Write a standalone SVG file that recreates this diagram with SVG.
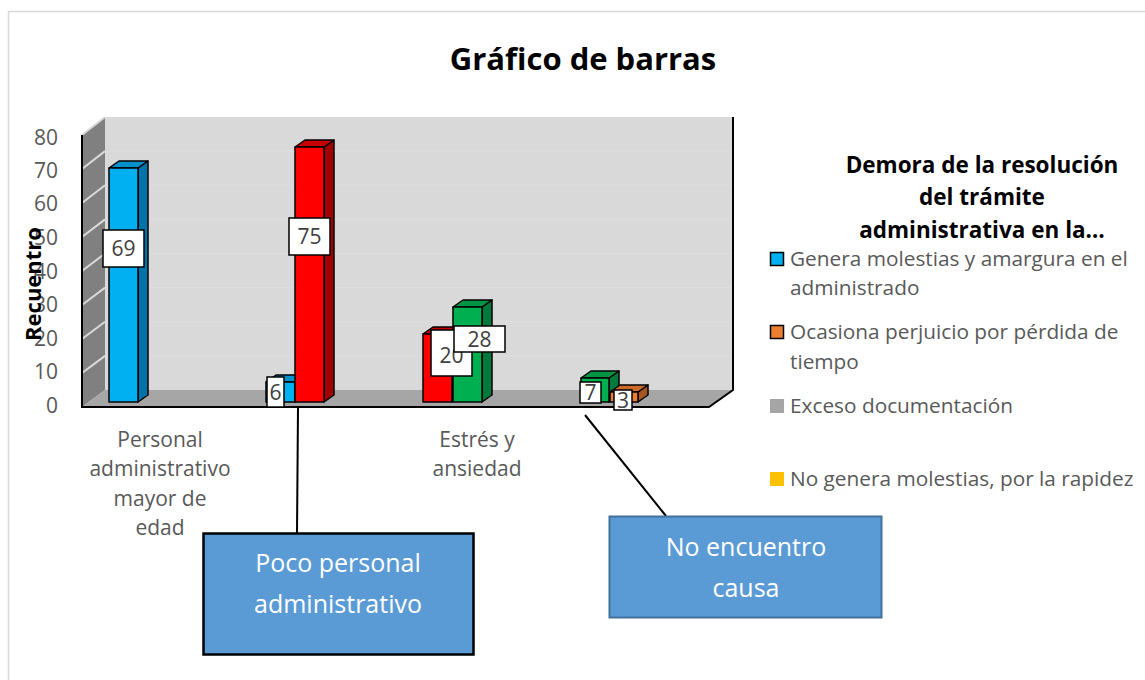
<svg xmlns="http://www.w3.org/2000/svg" width="1145" height="680" viewBox="0 0 1145 680">
<style>
.ax{font-family:"Open Sans","Liberation Sans",sans-serif;font-size:21px;fill:#595959}
.lg{font-family:"Open Sans","Liberation Sans",sans-serif;font-size:20.8px;fill:#595959}
.lt{font-family:"Open Sans","Liberation Sans",sans-serif;font-size:22.5px;font-weight:bold;fill:#000;text-anchor:middle}
.dl{font-family:"Open Sans","Liberation Sans",sans-serif;font-size:21px;fill:#404040;text-anchor:middle}
.lb{fill:#fff;stroke:#000;stroke-width:1.5}
.bx{font-family:"Open Sans","Liberation Sans",sans-serif;font-size:25px;fill:#fff;text-anchor:middle}
.bar{stroke:#000;stroke-width:1.5;stroke-linejoin:round}
.sg{stroke:#d9d9d9;stroke-width:2}
.bg{stroke:#dedede;stroke-width:1}
.conn{stroke:#000;stroke-width:2;fill:none}
</style>
<rect x="0" y="0" width="1145" height="680" fill="#fff"/>
<rect x="8.5" y="11.5" width="1150" height="700" fill="#fff" stroke="#d9d9d9" stroke-width="1.5"/>
<text x="583" y="70" font-family="Open Sans, Liberation Sans, sans-serif" font-size="31" font-weight="bold" text-anchor="middle" fill="#000">Gráfico de barras</text>

<g id="walls">
<polygon points="105,117 733,117 733,390 105,390" fill="#d9d9d9"/>
<g class="bg">
<line x1="105" y1="355.9" x2="733" y2="355.9"/>
<line x1="105" y1="321.8" x2="733" y2="321.8"/>
<line x1="105" y1="287.6" x2="733" y2="287.6"/>
<line x1="105" y1="253.5" x2="733" y2="253.5"/>
<line x1="105" y1="219.4" x2="733" y2="219.4"/>
<line x1="105" y1="185.3" x2="733" y2="185.3"/>
<line x1="105" y1="151.1" x2="733" y2="151.1"/>
</g>
<polygon points="82,135 105,117 105,390 82,407" fill="#808080"/>
<g class="sg">
<line x1="82" y1="373" x2="105" y2="355.9"/>
<line x1="82" y1="339" x2="105" y2="321.8"/>
<line x1="82" y1="305" x2="105" y2="287.6"/>
<line x1="82" y1="271" x2="105" y2="253.5"/>
<line x1="82" y1="237" x2="105" y2="219.4"/>
<line x1="82" y1="203" x2="105" y2="185.3"/>
<line x1="82" y1="169" x2="105" y2="151.1"/>
<line x1="82" y1="135" x2="105" y2="117"/>
</g>
<polygon points="82,407 709,407 733,390 105,390" fill="#a6a6a6"/>
<polyline points="733,117 733,390 709,407 82,407 82,135" fill="none" stroke="#000" stroke-width="2"/>
</g>

<g id="y-axis">
<text class="ax" x="58" y="145" text-anchor="end">80</text>
<text class="ax" x="58" y="178" text-anchor="end">70</text>
<text class="ax" x="58" y="211" text-anchor="end">60</text>
<text class="ax" x="58" y="245" text-anchor="end">50</text>
<text class="ax" x="58" y="279" text-anchor="end">40</text>
<text class="ax" x="58" y="312" text-anchor="end">30</text>
<text class="ax" x="58" y="346" text-anchor="end">20</text>
<text class="ax" x="58" y="379" text-anchor="end">10</text>
<text class="ax" x="58" y="413" text-anchor="end">0</text>
<text x="0" y="0" transform="translate(41,284) rotate(-90)" font-family="Open Sans, Liberation Sans, sans-serif" font-size="22" font-weight="bold" text-anchor="middle" fill="#000">Recuentro</text>
</g>

<g id="x-axis">
<text class="ax" text-anchor="middle"><tspan x="160" y="447">Personal</tspan><tspan x="160" y="476">administrativo</tspan><tspan x="160" y="506">mayor de</tspan><tspan x="160" y="535">edad</tspan></text>
<text class="ax" text-anchor="middle"><tspan x="477" y="447">Estrés y</tspan><tspan x="477" y="476">ansiedad</tspan></text>
</g>

<g id="bars">
<g id="bar-blue-69" class="bar">
<polygon points="138,168 148,161 148,395 138,402" fill="#0074a8"/>
<polygon points="109,168 119,161 148,161 138,168" fill="#0090cc"/>
<rect x="109" y="168" width="29" height="234" fill="#00b0f0"/>
</g>
<g id="bar-blue-6" class="bar">
<polygon points="295,382 305,375 305,395 295,402" fill="#0074a8"/>
<polygon points="266,382 276,375 305,375 295,382" fill="#0090cc"/>
<rect x="266" y="382" width="29" height="20" fill="#00b0f0"/>
</g>
<g id="bar-red-75" class="bar">
<polygon points="324,147 334,140 334,395 324,402" fill="#a00000"/>
<polygon points="295,147 305,140 334,140 324,147" fill="#c80000"/>
<rect x="295" y="147" width="29" height="255" fill="#ff0000"/>
</g>
<g id="bar-red-20" class="bar">
<polygon points="452,334 462,327 462,395 452,402" fill="#a00000"/>
<polygon points="423,334 433,327 462,327 452,334" fill="#c80000"/>
<rect x="423" y="334" width="29" height="68" fill="#ff0000"/>
</g>
<g id="bar-green-28" class="bar">
<polygon points="482,307 492,300 492,395 482,402" fill="#007a3c"/>
<polygon points="453,307 463,300 492,300 482,307" fill="#009444"/>
<rect x="453" y="307" width="29" height="95" fill="#00b050"/>
</g>
<g id="bar-green-7" class="bar">
<polygon points="609,378 619,371 619,395 609,402" fill="#007a3c"/>
<polygon points="581,378 591,371 619,371 609,378" fill="#009444"/>
<rect x="581" y="378" width="28" height="24" fill="#00b050"/>
</g>
<g id="bar-orange-3" class="bar">
<polygon points="638,392 648,385 648,395 638,402" fill="#a85520"/>
<polygon points="610,392 620,385 648,385 638,392" fill="#cc6a28"/>
<rect x="610" y="392" width="28" height="10" fill="#ed7d31"/>
</g>
</g>

<g id="data-labels">
<rect class="lb" x="103" y="230" width="41" height="37"/><text class="dl" x="123.5" y="256">69</text>
<rect class="lb" x="289" y="218" width="41" height="37"/><text class="dl" x="309.5" y="244">75</text>
<rect class="lb" x="267" y="377" width="17" height="30"/><text class="dl" x="275.5" y="400">6</text>
<rect class="lb" x="431" y="330" width="41" height="46"/><text class="dl" x="451.5" y="363">20</text>
<rect class="lb" x="454" y="326" width="51" height="26"/><text class="dl" x="479.5" y="347">28</text>
<rect class="lb" x="580" y="382" width="21" height="21"/><text class="dl" x="590.5" y="400">7</text>
<rect class="lb" x="614" y="390" width="18" height="20"/><text class="dl" x="623" y="408">3</text>
</g>

<g id="legend">
<text class="lt"><tspan x="982" y="173">Demora de la resolución</tspan><tspan x="982" y="205">del trámite</tspan><tspan x="982" y="238">administrativa en la…</tspan></text>
<rect x="770.5" y="252.5" width="13" height="13" fill="#00b0f0" stroke="#000" stroke-width="1.5"/>
<text class="lg"><tspan x="790" y="266">Genera molestias y amargura en el</tspan><tspan x="790" y="295">administrado</tspan></text>
<rect x="770.5" y="325.5" width="13" height="13" fill="#ed7d31" stroke="#000" stroke-width="1.5"/>
<text class="lg"><tspan x="790" y="339">Ocasiona perjuicio por pérdida de</tspan><tspan x="790" y="369">tiempo</tspan></text>
<rect x="770" y="399" width="14" height="14" fill="#a5a5a5"/>
<text class="lg" x="790" y="413">Exceso documentación</text>
<rect x="770" y="472" width="14" height="14" fill="#ffc000"/>
<text class="lg" x="790" y="486">No genera molestias, por la rapidez</text>
</g>

<g id="connectors">
<line class="conn" x1="298" y1="408" x2="297" y2="533"/>
<line class="conn" x1="585" y1="415" x2="666" y2="516"/>
</g>

<g id="node-poco-personal">
<rect x="203.5" y="533.5" width="270" height="121" fill="#5b9bd5" stroke="#000" stroke-width="2.5"/>
<text class="bx"><tspan x="338" y="572">Poco personal</tspan><tspan x="338" y="613">administrativo</tspan></text>
</g>
<g id="node-no-encuentro">
<rect x="609.5" y="516.5" width="272" height="101" fill="#5b9bd5" stroke="#41719c" stroke-width="2"/>
<text class="bx"><tspan x="746" y="556">No encuentro</tspan><tspan x="746" y="597">causa</tspan></text>
</g>
</svg>
